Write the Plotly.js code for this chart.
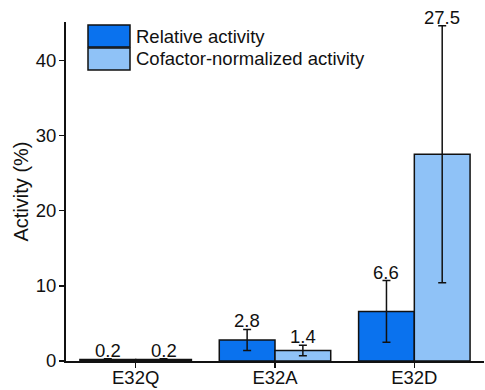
<!DOCTYPE html>
<html>
<head>
<meta charset="utf-8">
<script src="https://cdn.plot.ly/plotly-3.0.1.min.js"></script>
<style>html,body{margin:0;padding:0;background:#fff;}#chart{width:485px;height:390px;}</style>
</head>
<body>
<div id="chart"></div>
<script>
const categories = ["E32Q", "E32A", "E32D"];
const relativeActivity = [0.2, 2.8, 6.6];
const relativeError = [0.1, 1.4, 4.1];
const cofactorActivity = [0.2, 1.4, 27.5];
const cofactorError = [0.1, 0.7, 17.1];
const seriesNames = ["Relative activity", "Cofactor-normalized activity"];
const seriesColors = ["#0a72ee", "#8fc2f7"];
const yTicks = [0, 10, 20, 30, 40];

const font = "Liberation Sans, Arial, sans-serif";
const fs = 18.5;
const errStyle = {type: "data", visible: true, color: "#111", thickness: 1.5, width: 4};

const traces = [
  {type: "bar", name: seriesNames[0], x: categories, y: relativeActivity,
   marker: {color: seriesColors[0], line: {color: "#111", width: 1.5}},
   error_y: Object.assign({array: relativeError}, errStyle)},
  {type: "bar", name: seriesNames[1], x: categories, y: cofactorActivity,
   marker: {color: seriesColors[1], line: {color: "#111", width: 1.5}},
   error_y: Object.assign({array: cofactorError}, errStyle)}
];

const annotations = [];
const series = [[relativeActivity, relativeError, -0.2], [cofactorActivity, cofactorError, 0.2]];
series.forEach(([vals, errs, off]) => {
  vals.forEach((v, i) => {
    annotations.push({
      x: i + off, y: v + errs[i], xref: "x", yref: "y",
      text: v.toFixed(1), showarrow: false, yanchor: "bottom", yshift: -4,
      font: {family: font, size: fs, color: "#111"}
    });
  });
});

// custom legend (bigger boxes like the reference)
const shapes = [];
seriesNames.forEach((name, k) => {
  const y0 = 1 - (3 + 23 * k) / 339, y1 = 1 - (25 + 23 * k) / 339;
  shapes.push({type: "rect", xref: "paper", yref: "paper",
    x0: 22 / 418, x1: 64 / 418, y0: y1, y1: y0,
    fillcolor: seriesColors[k], line: {color: "#111", width: 1.5}});
  annotations.push({xref: "paper", yref: "paper", x: 68 / 418, y: (y0 + y1) / 2,
    xanchor: "left", yanchor: "middle", showarrow: false, text: name,
    font: {family: font, size: fs, color: "#111"}});
});
// x axis line extends slightly left of the y axis
shapes.push({type: "line", xref: "paper", yref: "y", x0: -6 / 418, x1: 0, y0: 0, y1: 0,
  line: {color: "#111", width: 2}});

const layout = {
  width: 485, height: 390,
  margin: {l: 66, r: 1, t: 22, b: 29},
  paper_bgcolor: "#fff", plot_bgcolor: "#fff",
  font: {family: font, size: fs, color: "#111"},
  barmode: "group", bargap: 0.2, bargroupgap: 0,
  showlegend: false,
  xaxis: {type: "category", range: [-0.5, 2.5], showline: true, linecolor: "#111", linewidth: 2,
          ticks: "outside", ticklen: 5, tickwidth: 1.5, tickcolor: "#111", ticklabelstandoff: -6,
          showgrid: false, zeroline: false, tickfont: {family: font, size: fs}},
  yaxis: {range: [0, 45.1], tickvals: yTicks, showline: true, linecolor: "#111", linewidth: 2,
          ticks: "outside", ticklen: 5, tickwidth: 1.5, tickcolor: "#111", ticklabelstandoff: -1,
          showgrid: false, zeroline: false, tickfont: {family: font, size: fs}},
  shapes: shapes,
  annotations: annotations.concat([{xref: "paper", yref: "paper", x: -46 / 418, y: 0.5,
    xanchor: "center", yanchor: "middle", textangle: -90, showarrow: false,
    text: "Activity (%)", font: {family: font, size: 20, color: "#111"}}])
};

Plotly.newPlot("chart", traces, layout, {displayModeBar: false, staticPlot: true});
</script>
</body>
</html>
